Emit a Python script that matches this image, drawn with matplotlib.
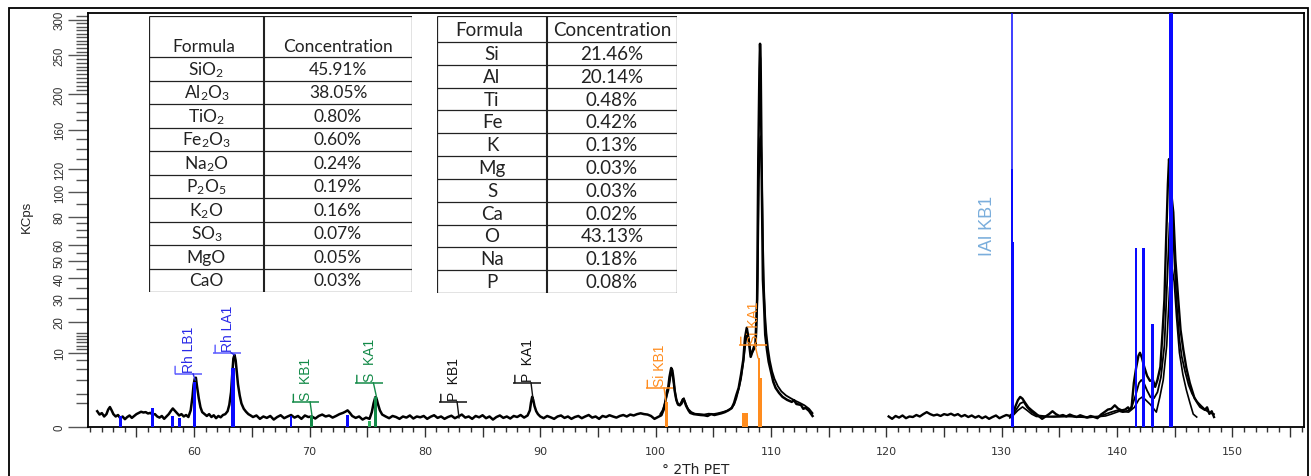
import numpy as np
import matplotlib
matplotlib.use('Agg')
import matplotlib.pyplot as plt
from matplotlib.patches import Rectangle
from matplotlib.ticker import FixedLocator, MultipleLocator, FuncFormatter

plt.rcParams['font.family'] = ['Liberation Sans', 'DejaVu Sans']
plt.rcParams['mathtext.fontset'] = 'custom'
plt.rcParams['mathtext.rm'] = 'Lato'
plt.rcParams['mathtext.it'] = 'Lato:italic'
plt.rcParams['mathtext.bf'] = 'Lato:bold'

# ---------------- data ----------------
# spectrum, left window (trace 1)  (2Theta, KCps)
spec_left = [
    (51.6, 0.45), (51.8, 0.28), (52.0, 0.35), (52.2, 0.2), (52.4, 0.3), (52.55, 0.55), (52.7, 0.72), (52.85, 0.5),
    (53.0, 0.3), (53.2, 0.2), (53.4, 0.26), (53.6, 0.14), (53.8, 0.2), (54.0, 0.11), (54.2, 0.18), (54.4, 0.24),
    (54.6, 0.15), (54.8, 0.22), (55.0, 0.3), (55.2, 0.36), (55.4, 0.42), (55.6, 0.38), (55.8, 0.4), (56.0, 0.33),
    (56.2, 0.36), (56.4, 0.28), (56.6, 0.3), (56.8, 0.2), (57.0, 0.16), (57.2, 0.22), (57.4, 0.12), (57.6, 0.2),
    (57.8, 0.3), (58.0, 0.48), (58.15, 0.62), (58.3, 0.5), (58.5, 0.36), (58.7, 0.24), (58.9, 0.3), (59.1, 0.2),
    (59.3, 0.26), (59.5, 0.18),
    (59.7, 0.5), (59.85, 1.6), (59.95, 3.2), (60.05, 4.2), (60.15, 4.4), (60.25, 3.0), (60.4, 1.5), (60.55, 0.7),
    (60.7, 0.4), (60.9, 0.3),
    (61.1, 0.22), (61.3, 0.3), (61.5, 0.18), (61.7, 0.25), (61.9, 0.14), (62.1, 0.22), (62.3, 0.17), (62.5, 0.26),
    (62.7, 0.3), (62.9, 0.45),
    (63.05, 0.9), (63.2, 2.2), (63.3, 5.0), (63.4, 8.5), (63.5, 9.4), (63.6, 8.0), (63.7, 5.5), (63.8, 3.3),
    (63.95, 1.8), (64.1, 1.0), (64.3, 0.6), (64.5, 0.42), (64.7, 0.3), (64.9, 0.24),
    (65.1, 0.18), (65.4, 0.24), (65.7, 0.12), (66.0, 0.2), (66.3, 0.15), (66.6, 0.22), (66.9, 0.1), (67.2, 0.18),
    (67.5, 0.25), (67.8, 0.14), (68.1, 0.2), (68.4, 0.26), (68.7, 0.16), (69.0, 0.22), (69.3, 0.12), (69.6, 0.24),
    (69.9, 0.18), (70.2, 0.2), (70.5, 0.13), (70.8, 0.22), (71.1, 0.28), (71.4, 0.2), (71.7, 0.24), (72.0, 0.16),
    (72.3, 0.22), (72.6, 0.3), (72.9, 0.36), (73.1, 0.42), (73.3, 0.5), (73.5, 0.36), (73.7, 0.22), (74.0, 0.15),
    (74.3, 0.2), (74.6, 0.1), (74.9, 0.16), (75.2, 0.12),
    (75.4, 0.4), (75.55, 1.0), (75.7, 1.6), (75.8, 1.5), (75.95, 0.9), (76.1, 0.5), (76.3, 0.28),
    (76.6, 0.2), (76.9, 0.14), (77.2, 0.22), (77.5, 0.18), (77.8, 0.12), (78.1, 0.2), (78.4, 0.16), (78.7, 0.24),
    (79.0, 0.13), (79.3, 0.2), (79.6, 0.17), (79.9, 0.22), (80.2, 0.12), (80.5, 0.19), (80.8, 0.25), (81.1, 0.15),
    (81.4, 0.2), (81.7, 0.12), (82.0, 0.18), (82.3, 0.23), (82.6, 0.14), (82.9, 0.2), (83.2, 0.28), (83.5, 0.16),
    (83.8, 0.2), (84.1, 0.12), (84.4, 0.22), (84.7, 0.17), (85.0, 0.25), (85.3, 0.14), (85.6, 0.2), (85.9, 0.1),
    (86.2, 0.18), (86.5, 0.24), (86.8, 0.15), (87.1, 0.2), (87.4, 0.13), (87.7, 0.22), (88.0, 0.18), (88.3, 0.26),
    (88.6, 0.16), (88.9, 0.24),
    (89.1, 0.5), (89.2, 1.1), (89.3, 1.65), (89.4, 1.3), (89.5, 0.8), (89.65, 0.45), (89.8, 0.3),
    (90.0, 0.2), (90.3, 0.14), (90.6, 0.22), (90.9, 0.17), (91.2, 0.12), (91.5, 0.2), (91.8, 0.24), (92.1, 0.15),
    (92.4, 0.2), (92.7, 0.12), (93.0, 0.18), (93.3, 0.22), (93.6, 0.14), (93.9, 0.2), (94.2, 0.26), (94.5, 0.16),
    (94.8, 0.2), (95.1, 0.12), (95.4, 0.22), (95.7, 0.18), (96.0, 0.25), (96.3, 0.2), (96.6, 0.16), (96.9, 0.22),
    (97.2, 0.26), (97.5, 0.2), (97.8, 0.28), (98.1, 0.24), (98.4, 0.3), (98.7, 0.34), (99.0, 0.3), (99.3, 0.28),
    (99.6, 0.22), (99.9, 0.12), (100.2, 0.18), (100.5, 0.25),
    (100.7, 0.55), (100.85, 1.2), (101.0, 2.4), (101.1, 2.9), (101.2, 4.5), (101.35, 6.3), (101.45, 5.8),
    (101.55, 4.2), (101.65, 2.4), (101.8, 1.3), (101.95, 0.9), (102.1, 0.85), (102.25, 1.0), (102.37, 1.4),
    (102.5, 1.2), (102.65, 0.8), (102.85, 0.5), (103.0, 0.36), (103.3, 0.3), (103.6, 0.28), (103.9, 0.26),
    (104.2, 0.25), (104.5, 0.22), (104.8, 0.3), (105.1, 0.26), (105.4, 0.3), (105.7, 0.34), (106.0, 0.4),
    (106.3, 0.5), (106.6, 0.65),
    (106.8, 1.05), (107.0, 1.86), (107.2, 2.77), (107.4, 4.92), (107.6, 8.17), (107.75, 14.4), (107.9, 17.8),
    (108.05, 14.1), (108.24, 8.9), (108.38, 10.2), (108.53, 11.65), (108.65, 12.2), (108.8, 29.4), (108.9, 130.0),
    (109.0, 232.0), (109.05, 265.6), (109.1, 245.0), (109.2, 111.0), (109.3, 39.3), (109.4, 27.0), (109.5, 15.4),
    (109.65, 10.8), (109.8, 7.69), (110.0, 5.5), (110.2, 3.69), (110.4, 2.77), (110.7, 2.1), (111.0, 1.64),
    (111.4, 1.33), (111.8, 1.14), (112.0, 1.3), (112.2, 0.96), (112.6, 0.88), (112.8, 0.6), (113.0, 0.66),
    (113.3, 0.47), (113.6, 0.22),
]
# second scan, left window (visible only around the Si lines)
spec_left_2 = [
    (100.4, 0.3), (100.6, 0.5), (100.8, 1.0), (100.95, 1.7), (101.1, 2.4), (101.25, 4.0), (101.35, 5.6),
    (101.45, 5.0), (101.6, 3.2), (101.75, 1.6), (101.9, 1.0), (102.1, 0.9), (102.3, 1.3), (102.45, 1.5),
    (102.6, 1.0), (102.8, 0.6), (103.1, 0.4), (103.4, 0.32), (103.8, 0.3), (104.2, 0.28), (104.6, 0.32),
    (105.0, 0.3), (105.4, 0.34), (105.8, 0.4), (106.2, 0.48), (106.5, 0.6), (106.8, 0.9), (107.0, 1.5),
    (107.2, 2.6), (107.4, 4.2), (107.6, 7.5), (107.8, 13.0), (107.95, 16.2), (108.1, 13.5), (108.25, 9.4),
    (108.4, 10.2), (108.55, 11.0), (108.7, 12.0), (108.85, 40.0), (108.95, 110.0), (109.05, 150.0),
    (109.12, 153.0), (109.2, 120.0), (109.3, 62.0), (109.4, 34.0), (109.5, 22.0), (109.6, 16.0), (109.75, 11.0),
    (109.9, 8.0), (110.1, 5.6), (110.3, 4.2), (110.6, 3.0), (110.9, 2.3), (111.3, 1.8), (111.7, 1.5),
    (112.1, 1.25), (112.5, 1.05), (112.9, 0.85), (113.3, 0.6), (113.6, 0.35),
]
# spectrum, right window (three scans)
spec_right = [
    (120.2, 0.2), (120.5, 0.12), (120.8, 0.22), (121.1, 0.16), (121.4, 0.24), (121.7, 0.14), (122.0, 0.2),
    (122.3, 0.18), (122.6, 0.26), (122.9, 0.2), (123.2, 0.3), (123.5, 0.4), (123.8, 0.3), (124.1, 0.24),
    (124.4, 0.28), (124.7, 0.22), (125.0, 0.3), (125.3, 0.26), (125.6, 0.32), (125.9, 0.24), (126.2, 0.3),
    (126.5, 0.2), (126.8, 0.26), (127.1, 0.18), (127.4, 0.24), (127.7, 0.16), (128.0, 0.22), (128.3, 0.14),
    (128.6, 0.2), (128.9, 0.12), (129.2, 0.18), (129.5, 0.24), (129.8, 0.14), (130.1, 0.2), (130.4, 0.26),
    (130.7, 0.22),
    (131.0, 0.35), (131.2, 0.8), (131.4, 1.3), (131.6, 1.64), (131.8, 1.45), (132.0, 1.1), (132.3, 0.7),
    (132.6, 0.5), (132.9, 0.35), (133.2, 0.22), (133.5, 0.12), (133.8, 0.2), (134.1, 0.3), (134.4, 0.45),
    (134.7, 0.3), (135.0, 0.22),
    (135.3, 0.26), (135.6, 0.2), (135.9, 0.28), (136.2, 0.22), (136.5, 0.18), (136.8, 0.25), (137.1, 0.2),
    (137.4, 0.16), (137.7, 0.22), (138.0, 0.18), (138.3, 0.14), (138.6, 0.28), (138.9, 0.4), (139.2, 0.55),
    (139.5, 0.6), (139.8, 0.85), (140.1, 0.6), (140.4, 0.5), (140.7, 0.55), (140.95, 0.7),
    (141.1, 0.53), (141.25, 0.66), (141.45, 3.52), (141.65, 6.34), (141.85, 9.17), (141.98, 9.97),
    (142.15, 8.67), (142.35, 6.55), (142.6, 4.73), (142.85, 3.85), (143.1, 4.02), (143.3, 2.91), (143.5, 4.02),
    (143.75, 6.55), (143.95, 17.1), (144.1, 29.4), (144.25, 63.6), (144.4, 106.6), (144.5, 129.8),
    (144.6, 114.8), (144.75, 93.8), (144.87, 83.4), (145.05, 50.8), (145.3, 29.4), (145.5, 17.1),
    (145.74, 10.8), (146.0, 6.34), (146.3, 3.52), (146.7, 1.53), (147.0, 1.0), (147.2, 0.73), (147.6, 0.53),
    (147.8, 0.7), (148.0, 0.31), (148.2, 0.45), (148.4, 0.18),
]
spec_right_2 = [
    (130.7, 0.2), (131.0, 0.3), (131.3, 0.6), (131.6, 1.0), (131.9, 1.14), (132.2, 0.7), (132.6, 0.4),
    (133.0, 0.25), (134.0, 0.2), (135.5, 0.22), (137.0, 0.18), (138.5, 0.2), (139.0, 0.3), (139.5, 0.4),
    (140.0, 0.5), (140.5, 0.4), (141.0, 0.5), (141.3, 0.8), (141.6, 1.8), (141.9, 3.5), (142.1, 4.0),
    (142.3, 3.6), (142.6, 2.4), (142.9, 1.6), (143.2, 1.5), (143.5, 2.2), (143.8, 4.5), (144.1, 12.0),
    (144.35, 40.0), (144.55, 75.0), (144.7, 83.0), (144.85, 70.0), (145.0, 45.0), (145.2, 25.0),
    (145.4, 14.0), (145.6, 9.0), (145.9, 5.5), (146.2, 3.2), (146.5, 2.0), (146.9, 1.2), (147.3, 0.8),
    (147.7, 0.5), (148.1, 0.35), (148.4, 0.3),
]
spec_right_3 = [
    (130.7, 0.15), (131.0, 0.25), (131.4, 0.5), (131.8, 0.73), (132.2, 0.5), (132.6, 0.3), (133.0, 0.2),
    (134.5, 0.18), (136.0, 0.2), (137.5, 0.16), (139.0, 0.22), (139.5, 0.3), (140.2, 0.45), (141.0, 0.4),
    (141.5, 0.7), (141.9, 1.4), (142.2, 1.64), (142.5, 1.3), (142.9, 0.9), (143.4, 0.4), (143.7, 1.6),
    (144.0, 4.0), (144.3, 12.0), (144.55, 35.0), (144.75, 46.6), (144.95, 38.0), (145.15, 22.0),
    (145.4, 10.0), (145.7, 5.0), (146.0, 2.5), (146.3, 1.1), (146.6, 0.3), (146.9, 0.18),
]

# characteristic line markers (position, height KCps)
blue_lines_x = [53.6, 56.4, 58.1, 58.7, 60.0, 63.4, 68.4, 73.3, 130.9, 130.9, 141.65, 142.3, 143.1, 144.65]
blue_lines_h = [0.2, 0.66, 0.22, 0.15, 3.7, 6.3, 0.2, 0.26, 120.0, 62.0, 58.0, 58.0, 19.3, 310.0]
green_lines_x = [70.2, 75.2, 75.7]
green_lines_h = [0.2, 0.06, 1.64]
orange_lines_x = [100.9, 107.62, 107.88, 108.95, 109.05]
orange_lines_h = [1.14, 0.36, 0.36, 8.7, 4.4]
al_kb1_line_x = 130.85

# peak labels
label_texts = ['Rh LB1', 'Rh LA1', 'S  KB1', 'S  KA1', 'P  KB1', 'P  KA1', 'Si KB1', 'Si KA1']
label_x = [59.52, 62.86, 69.66, 75.16, 82.44, 88.86, 100.34, 108.44]
label_y = [5.1, 9.97, 1.14, 3.52, 1.14, 3.52, 2.77, 12.24]
label_line_x0 = [59.91, 63.2, 70.05, 75.54, 82.79, 89.2, 100.73, 108.61]
label_peak_x = [60.09, 63.47, 70.23, 75.83, 82.96, 89.38, 100.9, 108.87]
label_peak_y = [4.0, 9.43, 0.18, 1.5, 0.15, 1.33, 1.14, 8.67]
label_tick_x = [58.35, 61.82, 68.6, 74.1, 81.38, 87.8, 99.28, 107.38]
label_group = ['Rh', 'Rh', 'S', 'S', 'P', 'P', 'Si', 'Si']

# axis ticks
ytick_vals = [0, 10, 20, 30, 40, 50, 60, 80, 100, 120, 160, 200, 250, 300]
ytick_minor = [1, 2, 4, 6, 8, 11, 12, 13, 14, 15, 16, 25, 35, 45, 55, 65, 70, 75, 90, 110, 130, 140, 150,
               170, 180, 190, 205, 210, 215, 220, 225, 230, 235, 240, 245, 255, 260, 265, 270, 275, 280,
               285, 290, 295, 305]

# tables
table1_formula = ['SiO$_2$', 'Al$_2$O$_3$', 'TiO$_2$', 'Fe$_2$O$_3$', 'Na$_2$O', 'P$_2$O$_5$', 'K$_2$O',
                  'SO$_3$', 'MgO', 'CaO']
table1_conc = ['45.91%', '38.05%', '0.80%', '0.60%', '0.24%', '0.19%', '0.16%', '0.07%', '0.05%', '0.03%']
table2_formula = ['Si', 'Al', 'Ti', 'Fe', 'K', 'Mg', 'S', 'Ca', 'O', 'Na', 'P']
table2_conc = ['21.46%', '20.14%', '0.48%', '0.42%', '0.13%', '0.03%', '0.03%', '0.02%', '43.13%', '0.18%',
               '0.08%']

# ---------------- figure ----------------
W, H = 1311, 477
fig = plt.figure(figsize=(W / 100, H / 100), dpi=100)
fig.patch.set_facecolor('white')
ax = fig.add_axes([88 / W, 1 - 428 / H, (1304 - 88) / W, (428 - 14) / H])

ax.set_yscale('function', functions=(lambda v: np.sqrt(np.clip(v, 0, None)), lambda v: np.square(v)))
ax.set_xlim(50.8, 156.2)
ax.set_ylim(0, 310)

BLUE = '#0a0aff'
colors = {'Rh': ('#2a2ae8', '#5a5aff'), 'S': ('#138a48', '#138a48'),
          'P': ('#111111', '#111111'), 'Si': ('#ff8c1e', '#ff8c1e')}

for trace, lw in [(spec_left, 1.8), (spec_left_2, 1.3), (spec_right, 1.7), (spec_right_2, 1.3),
                  (spec_right_3, 1.2)]:
    xs, ys = zip(*trace)
    ax.plot(xs, ys, color='black', lw=lw, zorder=2, solid_joinstyle='round')

blue_w = [0.26, 0.29, 0.25, 0.25, 0.24, 0.35, 0.25, 0.28, 0.17, 0.27, 0.23, 0.23, 0.26, 0.38]
ax.bar(blue_lines_x, blue_lines_h, width=blue_w, color=BLUE, zorder=3, linewidth=0)
ax.vlines(al_kb1_line_x, 0, 310, color=BLUE, lw=1.1, zorder=3)
ax.bar(green_lines_x, green_lines_h, width=[0.28, 0.3, 0.29], color=['#138a48', '#30b060', '#138a48'],
       zorder=3, linewidth=0)
ax.bar(orange_lines_x, orange_lines_h, width=[0.26, 0.2, 0.2, 0.2, 0.3], color='#ff8c1e', zorder=3,
       linewidth=0)

for t, x, y, x0, px, py, tx, g in zip(label_texts, label_x, label_y, label_line_x0, label_peak_x,
                                         label_peak_y, label_tick_x, label_group):
    tc, bc = colors[g]
    ax.hlines(y, x - 1.2, x + 1.2, color=bc, lw=1.1, zorder=4)
    ax.plot([x0, px], [y, py], color=tc, lw=1.0, zorder=4)
    ax.annotate('', xy=(tx, y), xytext=(0, 5.5), textcoords='offset points',
                arrowprops=dict(arrowstyle='-', color=bc, lw=1.0, shrinkA=0, shrinkB=0), zorder=4)
    ax.annotate(t, xy=(x, y), xytext=(0.5, 1.5), textcoords='offset points', rotation=90,
                ha='center', va='bottom', color=tc, fontsize=10, zorder=4)

ax.text(128.8, 74, 'IAl KB1', rotation=90, ha='center', va='center', color='#7aaedc', fontsize=13)

# y axis
ax.yaxis.set_major_locator(FixedLocator(ytick_vals))
ax.yaxis.set_minor_locator(FixedLocator(ytick_minor))
ax.set_yticklabels([str(v) for v in ytick_vals])
ax.tick_params(axis='y', which='major', length=14.5, width=1.0, color='#555555', labelsize=8.3,
               labelrotation=90, pad=1.5, labelcolor='#333333', direction='out')
ax.tick_params(axis='y', which='minor', length=8.5, width=1.0, color='#555555', direction='out')
for lab in ax.get_yticklabels():
    lab.set_va('center')

# x axis
ax.xaxis.set_major_locator(MultipleLocator(5))
ax.xaxis.set_minor_locator(MultipleLocator(1))
ax.xaxis.set_major_formatter(FuncFormatter(lambda v, p: f'{int(round(v))}' if round(v) % 10 == 0 else ''))
ax.tick_params(axis='x', which='major', length=7, width=1.0, color='#333333', labelsize=8, pad=7,
               labelcolor='#333333', direction='out', labelfontfamily='DejaVu Sans')
ax.tick_params(axis='x', which='minor', length=3.6, width=1.0, color='#333333', direction='out')

for s in ax.spines.values():
    s.set_linewidth(1.3)
    s.set_color('black')

fig.text(696 / W, 1 - 470 / H, '° 2Th PET', ha='center', va='center', fontsize=10,
         family='DejaVu Sans', color='#222222')
fig.text(27 / W, 1 - 217 / H, 'KCps', ha='center', va='center', rotation=90, fontsize=9.5,
         color='#222222')

# outer frame
fig.add_artist(Rectangle((9 / W, -0.1), (1308 - 9) / W, 1.1 - 9 / H, transform=fig.transFigure,
                         fill=False, lw=1.3, edgecolor='black'))


# ---------------- tables ----------------
def draw_table(x0, x1, xs, y0, y_head, y1, formulas, concs, fontsize, head_y):
    tax = fig.add_axes([x0 / W, 1 - y1 / H, (x1 - x0) / W, (y1 - y0) / H])
    tax.set_xlim(x0, x1)
    tax.set_ylim(y1, y0)
    tax.axis('off')
    tax.add_patch(Rectangle((x0, y0), x1 - x0, y1 - y0, facecolor='white', edgecolor='none', zorder=0))
    n = len(formulas)
    rh = (y1 - y_head) / n
    kw = dict(color='#222222', lw=0.9, solid_capstyle='butt')
    tax.plot([x0, x1], [y0, y0], **kw)
    tax.plot([x0, x1], [y1, y1], **kw)
    tax.plot([x0, x0], [y0, y1], **kw)
    tax.plot([x1, x1], [y0, y1], **kw)
    tax.plot([xs, xs], [y0, y1], color='#222222', lw=1.5)
    for i in range(n):
        yy = y_head + i * rh
        tax.plot([x0, x1], [yy, yy], **kw)
    c1 = (x0 + xs) / 2
    c2 = (xs + x1) / 2
    tkw = dict(ha='center', va='center', fontsize=fontsize, family='Lato', color='#222222')
    tax.text(c1 - 3, head_y, 'Formula', **tkw)
    tax.text(c2, head_y, 'Concentration', **tkw)
    for i, (f, c) in enumerate(zip(formulas, concs)):
        yc = y_head + (i + 0.5) * rh
        tax.text(c1, yc, f, **tkw)
        tax.text(c2, yc, c, **tkw)


draw_table(149, 412, 264, 17, 58, 293, table1_formula, table1_conc, 12.5, 47)
draw_table(437, 677, 547, 17, 43, 294, table2_formula, table2_conc, 13.5, 30)

fig.savefig('out.png', dpi=100)
